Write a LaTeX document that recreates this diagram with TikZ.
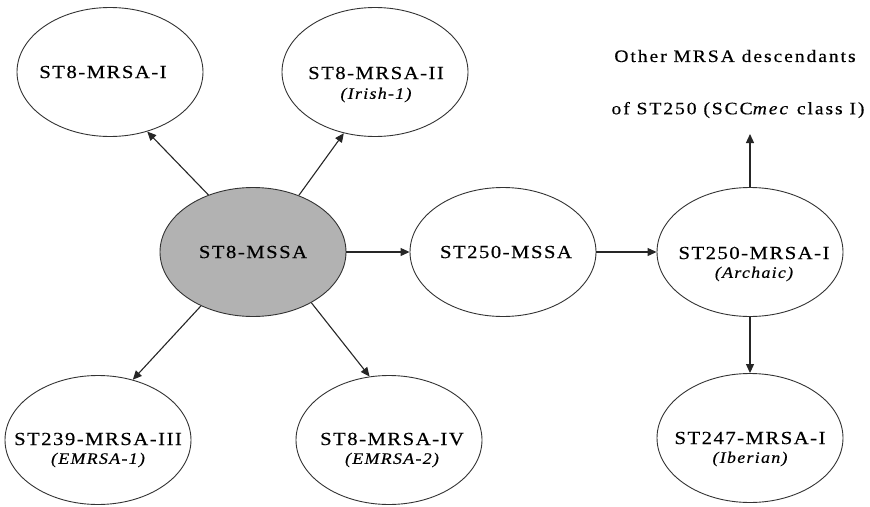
\documentclass[tikz,border=0pt]{standalone}
\usepackage{fontspec}
\setmainfont[FakeStretch=1.12,LetterSpace=8,FakeBold=0.4]{Liberation Serif}
\usetikzlibrary{shapes.geometric,arrows.meta}

\begin{document}
\begin{tikzpicture}[x=1pt,y=-1pt,
  blob/.style={ellipse, draw=black!80, line width=0.9pt,
    minimum width=186pt, minimum height=129pt, inner sep=0pt},
  lab/.style={font=\fontsize{18.5}{21}\selectfont, inner sep=0pt},
  sub/.style={font=\fontsize{16}{18}\selectfont\itshape, inner sep=0pt},
  toplab/.style={font=\fontsize{17.5}{20}\selectfont\addfontfeature{LetterSpace=11}, inner sep=0pt},
  link/.style={-{Triangle[length=9pt,width=8pt]}, line width=1.1pt, draw=black!85}]
\useasboundingbox (0,0) rectangle (870,506);

% strains
\node[blob] (mrsa1) at (110,72) {};
\node[blob] (mrsa2) at (375,72) {};
\node[blob, fill=black!30] (mssa) at (253,252) {};
\node[blob] (st250) at (503,252) {};
\node[blob] (arch) at (750,252) {};
\node[blob] (st239) at (98,440) {};
\node[blob] (mrsa4) at (389,440) {};
\node[blob] (iber) at (750,438) {};

% labels
\node[lab] (t1) at (103,72) {ST8-MRSA-I};
\node[lab] (t2) at (376,73) {ST8-MRSA-II};
\node[sub] (s2) at (376,95) {(Irish-1)};
\node[lab] (t3) at (253,252) {ST8-MSSA};
\node[lab] (t4) at (506,252) {ST250-MSSA};
\node[lab] (t5) at (754,253) {ST250-MRSA-I};
\node[sub] (s5) at (754,274) {(Archaic)};
\node[lab] (t6) at (98,439) {ST239-MRSA-III};
\node[sub] (s6) at (98,460) {(EMRSA-1)};
\node[lab] (t7) at (392,439) {ST8-MRSA-IV};
\node[sub] (s7) at (392,460) {(EMRSA-2)};
\node[lab] (t8) at (750,438) {ST247-MRSA-I};
\node[sub] (s8) at (750,459) {(Iberian)};

\node[toplab] (o1) at (735,56) {Other MRSA descendants};
\node[toplab] (o2) at (738,110) {of ST250 (SCC\textit{mec} class I)};
\coordinate (up) at (750,134);

% descent links
\draw[link] (mssa.128) -- (mrsa1.-58);
\draw[link] (mssa.51) -- (mrsa2.-117);
\draw[link] (mssa.-134) -- (st239.60);
\draw[link] (mssa.-41) -- (mrsa4.107);
\draw[link] (mssa.east) -- (st250.west);
\draw[link] (st250.east) -- (arch.west);
\draw[link] (arch.north) -- (up);
\draw[link] (arch.south) -- (iber.north);
\end{tikzpicture}
\end{document}
